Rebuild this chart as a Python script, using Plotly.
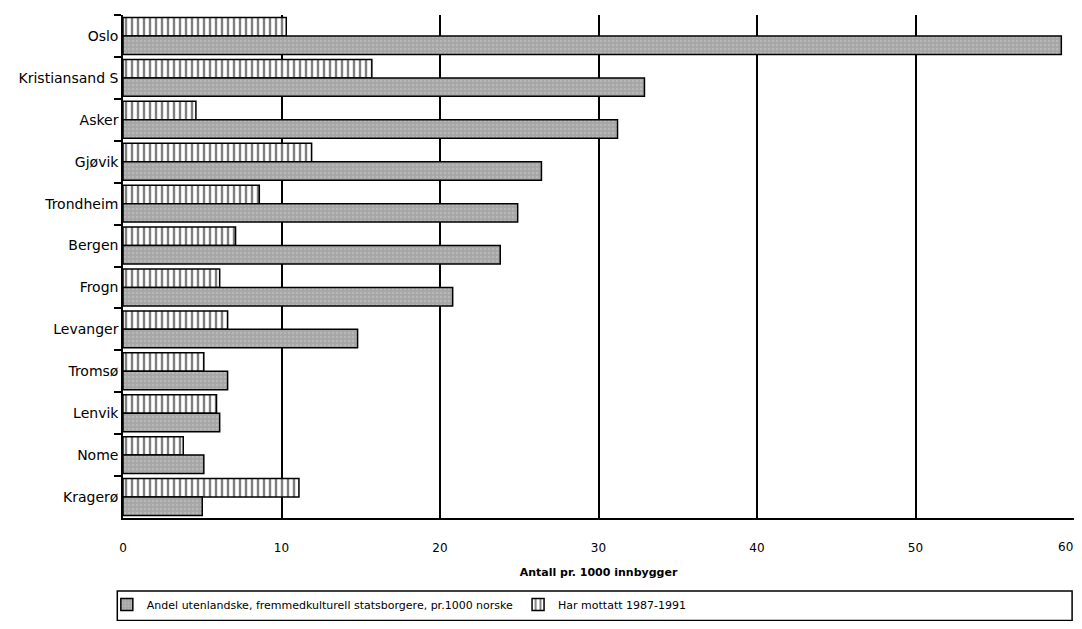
import plotly.graph_objects as go

kommuner = ["Oslo", "Kristiansand S", "Asker", "Gjøvik", "Trondheim", "Bergen",
            "Frogn", "Levanger", "Tromsø", "Lenvik", "Nome", "Kragerø"]
andel_utenlandske = [59.2, 32.9, 31.2, 26.4, 24.9, 23.8, 20.8, 14.8, 6.6, 6.1, 5.1, 5.0]
har_mottatt = [10.3, 15.7, 4.6, 11.9, 8.6, 7.1, 6.1, 6.6, 5.1, 5.9, 3.8, 11.1]
x_ticks = [0, 10, 20, 30, 40, 50, 60]

name_andel = "Andel utenlandske, fremmedkulturell statsborgere, pr.1000 norske"
name_mottatt = "Har mottatt 1987-1991"
x_title = "Antall pr. 1000 innbygger"

FONT = "'DejaVu Sans', sans-serif"

fig = go.Figure()
fig.add_trace(go.Bar(
    y=kommuner, x=har_mottatt, orientation="h", name=name_mottatt,
    marker=dict(color="white", line=dict(color="black", width=1.5),
                pattern=dict(shape="|", fgcolor="black", bgcolor="white", size=6, solidity=0.4)),
    legendrank=2,
))
fig.add_trace(go.Bar(
    y=kommuner, x=andel_utenlandske, orientation="h", name=name_andel,
    marker=dict(color="#a6a6a6", line=dict(color="black", width=1.5),
                pattern=dict(shape=".", fgcolor="#cacaca", bgcolor="#a6a6a6", size=4, solidity=0.3)),
    legendrank=1,
))

# page body has an 8px margin, so the figure is made smaller and margins shifted
fig.update_layout(
    width=1074, height=613,
    paper_bgcolor="white", plot_bgcolor="white",
    margin=dict(l=115, r=8, t=7, b=103, autoexpand=False),
    barmode="group", bargap=0.12, bargroupgap=0.0,
    font=dict(family=FONT, size=13, color="black"),
    showlegend=True,
    legend=dict(orientation="h", x=-0.017, y=-0.143, xanchor="left", yanchor="top",
                font=dict(size=11, family=FONT), bgcolor="rgba(0,0,0,0)",
                itemwidth=30, tracegroupgap=0),
)

fig.update_xaxes(
    range=[0, 60], tickvals=x_ticks,
    ticktext=[str(v) for v in x_ticks[:-1]] + [""],
    showgrid=True, gridcolor="black", gridwidth=1.5,
    showline=True, linecolor="black", linewidth=1.5,
    ticks="outside", ticklen=18, tickcolor="rgba(0,0,0,0)",
    tickfont=dict(size=12, family=FONT),
    title=dict(text="<b>" + x_title + "</b>", font=dict(size=11, family=FONT), standoff=14),
    zeroline=False, automargin=False,
)
fig.update_yaxes(
    autorange="reversed", type="category",
    showline=True, linecolor="black", linewidth=1.5,
    ticks="outside", ticklen=7, tickcolor="black", tickwidth=1.5,
    tickson="boundaries", showgrid=False,
    tickfont=dict(size=14, family=FONT), automargin=False,
)

# last tick label placed so it stays inside the visible page
fig.add_annotation(x=x_ticks[-1], y=0, xref="x", yref="paper",
                   text=str(x_ticks[-1]), showarrow=False,
                   xanchor="right", yanchor="top", xshift=1, yshift=-20,
                   font=dict(size=12, family=FONT))

# legend frame
fig.add_shape(type="rect", xref="paper", yref="paper",
              x0=-0.006, x1=0.998, y0=-0.204, y1=-0.145,
              line=dict(color="black", width=1.5), fillcolor="rgba(0,0,0,0)")

fig.write_html("out.html")
